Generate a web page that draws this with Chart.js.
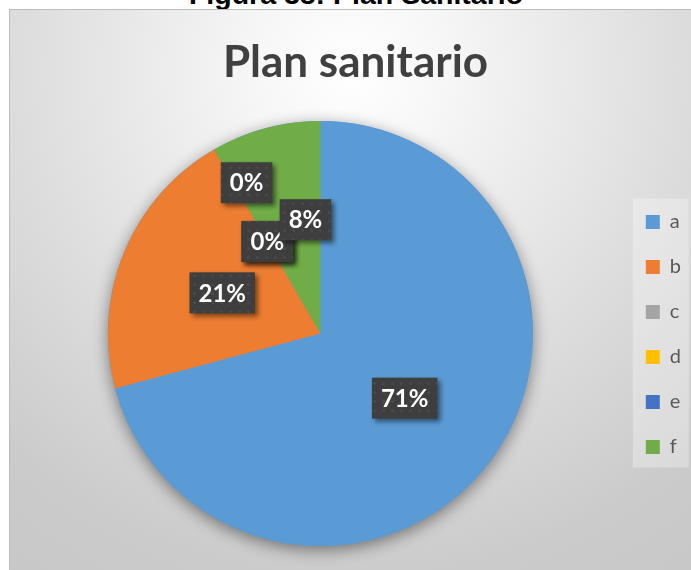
<!DOCTYPE html>
<html>
<head>
<meta charset="utf-8">
<script src="https://cdn.jsdelivr.net/npm/chart.js@4"></script>
<style>
  html, body { margin: 0; padding: 0; background: #ffffff; width: 691px; height: 570px; overflow: hidden; }
  #caption { position: absolute; left: 356px; top: -19.6px; transform: translateX(-50%); white-space: nowrap;
    font-family: "Liberation Sans", Arial, sans-serif; font-weight: bold; font-size: 28.5px; line-height: 28.5px; color: #000; }
  #wrap { position: absolute; left: 9px; top: 9px; width: 681px; height: 560px;
    border-left: 1px solid #bdbdbd; border-top: 1px solid #bdbdbd; }
  canvas { display: block; }
</style>
</head>
<body>
<div id="caption">Figura 38: Plan Sanitario</div>
<div id="wrap"><canvas id="c" width="681" height="560"></canvas></div>
<script>
const chartTitle = 'Plan sanitario';
const categories = ['a', 'b', 'c', 'd', 'e', 'f'];
const counts = [17, 5, 0, 0, 0, 2];
const sliceColors = ['#5B9BD5', '#ED7D31', '#A5A5A5', '#FFC000', '#4472C4', '#70AD47'];

// label placement tweaks (style only): radial factor and angle shift (deg)
const labelRadius = [0.5, 0.5, 0.79, 0.5, 0.5, 0.54];
const labelShift = [0, 0, 3.9, 0, 0, 7.5];
const labelOrder = [0, 1, 2, 4, 3, 5];

function makePattern(ctx) {
  const p = document.createElement('canvas');
  p.width = 9; p.height = 9;
  const g = p.getContext('2d');
  g.fillStyle = '#3e3e3e';
  g.fillRect(0, 0, 9, 9);
  g.fillStyle = '#4a4a4a';
  g.beginPath(); g.arc(4.5, 4.5, 1.6, 0, Math.PI * 2); g.fill();
  return ctx.createPattern(p, 'repeat');
}

const bgPlugin = {
  id: 'bg',
  beforeDraw(chart) {
    const ctx = chart.ctx;
    const w = chart.width, h = chart.height;
    ctx.save();
    const g = ctx.createRadialGradient(w / 2, 60, 0, w / 2, 60, 600);
    g.addColorStop(0, '#ffffff');
    g.addColorStop(0.15, '#f7f7f7');
    g.addColorStop(0.55, '#dddddd');
    g.addColorStop(0.85, '#cbcbcb');
    g.addColorStop(1, '#c8c8c8');
    ctx.fillStyle = g;
    ctx.fillRect(0, 0, w, h);
    const lg = chart.legend;
    if (lg) {
      const ca = chart.chartArea;
      const cy = (ca.top + ca.bottom) / 2;
      ctx.fillStyle = 'rgba(255,255,255,0.3)';
      ctx.fillRect(lg.left + 12, cy - 135, 56, 269);
    }
    ctx.restore();
  },
  beforeDatasetsDraw(chart) {
    const arc = chart.getDatasetMeta(0).data[0];
    if (!arc) return;
    const ctx = chart.ctx;
    ctx.save();
    ctx.shadowColor = 'rgba(0,0,0,0.45)';
    ctx.shadowBlur = 16;
    ctx.shadowOffsetY = 4;
    ctx.fillStyle = sliceColors[0];
    ctx.beginPath();
    ctx.arc(arc.x, arc.y, arc.outerRadius, 0, Math.PI * 2);
    ctx.fill();
    ctx.restore();
  },
  afterDatasetsDraw(chart) {
    const ctx = chart.ctx;
    const meta = chart.getDatasetMeta(0);
    const total = counts.reduce((a, b) => a + b, 0);
    const pattern = makePattern(ctx);
    ctx.save();
    ctx.font = 'bold 24px Lato';
    ctx.textAlign = 'center';
    ctx.textBaseline = 'middle';
    labelOrder.forEach(i => {
      const el = meta.data[i];
      const txt = Math.round(counts[i] / total * 100) + '%';
      const mid = (el.startAngle + el.endAngle) / 2 + labelShift[i] * Math.PI / 180;
      const r = el.outerRadius * labelRadius[i];
      const x = el.x + Math.cos(mid) * r;
      const y = el.y + Math.sin(mid) * r;
      const tw = ctx.measureText(txt).width;
      const bw = tw + 18, bh = 41;
      ctx.save();
      ctx.shadowColor = 'rgba(0,0,0,0.5)';
      ctx.shadowBlur = 5;
      ctx.shadowOffsetX = 3;
      ctx.shadowOffsetY = 3;
      ctx.fillStyle = pattern;
      ctx.fillRect(x - bw / 2, y - bh / 2, bw, bh);
      ctx.restore();
      ctx.fillStyle = '#ffffff';
      ctx.fillText(txt, x, y + 1);
    });
    ctx.restore();
  }
};

new Chart(document.getElementById('c'), {
  type: 'pie',
  data: {
    labels: categories,
    datasets: [{
      data: counts,
      backgroundColor: sliceColors,
      borderWidth: 0
    }]
  },
  options: {
    responsive: false,
    devicePixelRatio: 1,
    animation: false,
    layout: { padding: { left: 10, right: 0, top: 0, bottom: 24 } },
    plugins: {
      title: {
        display: true,
        text: chartTitle,
        color: '#404040',
        font: { family: 'Lato', size: 44, weight: 'bold', lineHeight: 1.2 },
        padding: { top: 26.7, bottom: 31.5 }
      },
      legend: {
        position: 'right',
        title: {
          display: true,
          text: ' ',
          font: { size: 1, lineHeight: 1 },
          padding: { top: 112, bottom: 0 }
        },
        labels: {
          color: '#595959',
          font: { family: 'Lato', size: 20 },
          boxWidth: 14,
          boxHeight: 14,
          padding: 25
        }
      },
      tooltip: { enabled: false }
    }
  },
  plugins: [bgPlugin]
});
</script>
</body>
</html>
